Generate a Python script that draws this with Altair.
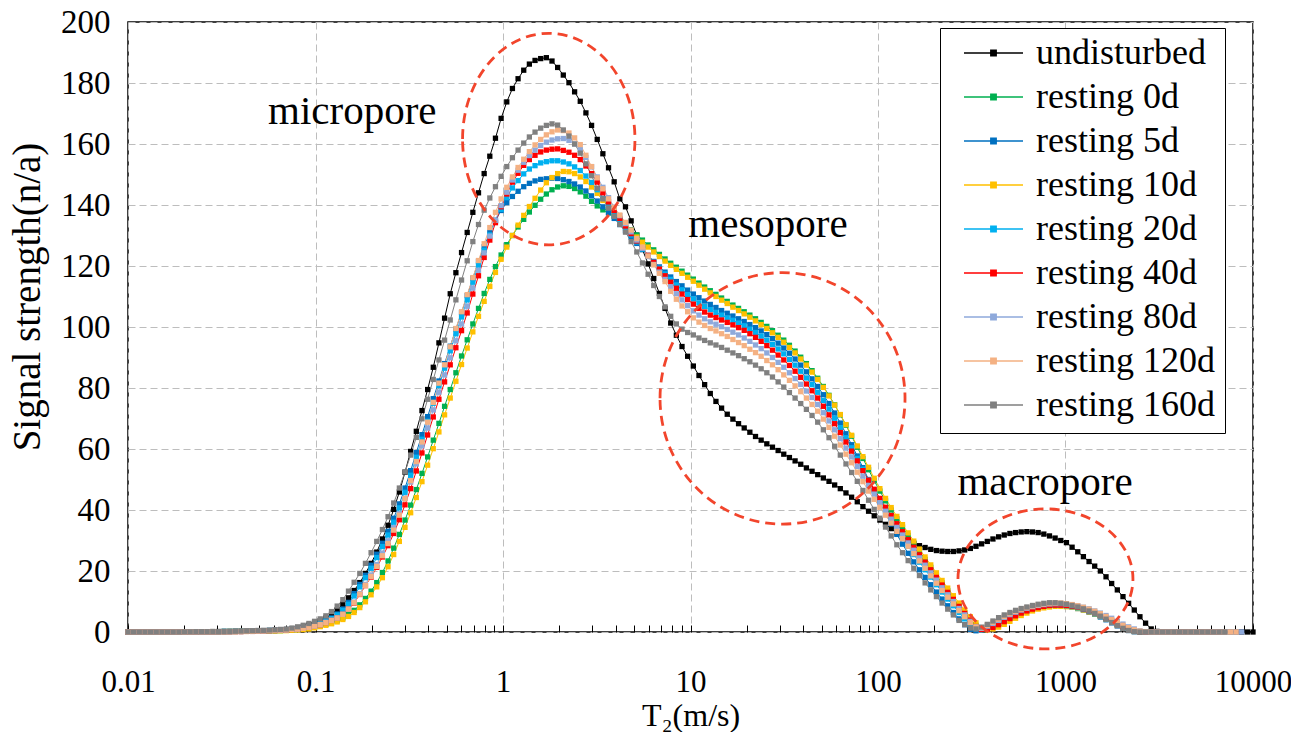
import altair as alt
import numpy as np
import pandas as pd

SERIF = "Liberation Serif"

series_names = ["undisturbed", "resting 0d", "resting 5d", "resting 10d", "resting 20d",
                "resting 40d", "resting 80d", "resting 120d", "resting 160d"]
series_colors = ["#000000", "#00B050", "#0070C0", "#FFC000", "#00B0F0",
                 "#FF0000", "#8EA9DB", "#F4B183", "#808080"]
# index of the last plotted point of every series on the T2 grid
last_index = [199, 193, 193, 193, 193, 193, 197, 196, 194]

# signal, starting at grid point 10 (points 0-9 are 0)
undisturbed = [
    0.1, 0.1, 0.1, 0.1, 0.1, 0.15, 0.15, 0.2, 0.2, 0.2,
    0.2, 0.25, 0.3, 0.3, 0.35, 0.4, 0.5, 0.6, 0.7, 1.0,
    1.35, 1.8, 2.3, 2.9, 3.7, 4.6, 5.8, 7.3, 9.1, 11.2,
    13.6, 16.2, 19.2, 22.5, 26.2, 30.5, 35.0, 40.2, 45.9, 52.4,
    59.2, 65.8, 72.6, 79.5, 86.8, 94.8, 102.9, 110.9, 117.8, 124.4,
    131.0, 137.6, 144.0, 150.3, 156.0, 161.9, 168.4, 173.8, 178.2, 181.4,
    184.2, 186.2, 187.4, 188.0, 188.3, 187.2, 185.1, 182.6, 180.1, 177.1,
    174.0, 170.2, 166.1, 161.5, 156.8, 152.2, 147.6, 142.0, 139.4, 134.8,
    130.1, 125.4, 120.7, 115.9, 111.0, 106.1, 101.3, 97.3, 93.6, 90.4,
    87.2, 84.1, 81.1, 78.2, 75.6, 73.4, 71.4, 69.8, 68.3, 66.9,
    65.5, 64.1, 62.9, 61.7, 60.6, 59.5, 58.3, 57.2, 56.1, 55.0,
    53.8, 52.7, 51.6, 50.5, 49.4, 48.2, 47.0, 45.6, 44.2, 42.7,
    41.1, 39.6, 38.1, 36.7, 35.3, 33.9, 32.5, 31.3, 30.2, 29.1,
    28.3, 27.7, 27.1, 26.7, 26.5, 26.4, 26.4, 26.6, 26.9, 27.4,
    28.1, 28.9, 29.7, 30.5, 31.2, 31.8, 32.3, 32.6, 32.8, 32.9,
    32.8, 32.6, 32.1, 31.5, 30.8, 30.0, 29.3, 27.8, 26.3, 24.7,
    23.1, 21.6, 20.0, 18.1, 15.9, 13.8, 11.6, 9.4, 7.2, 5.0,
    2.9, 1.0, 0.2]

resting_0d = [
    0.0, 0.05, 0.05, 0.05, 0.1, 0.1, 0.1, 0.15, 0.15, 0.2,
    0.2, 0.25, 0.3, 0.3, 0.35, 0.4, 0.4, 0.45, 0.55, 0.65,
    0.8, 0.95, 1.2, 1.6, 2.0, 2.5, 3.0, 3.7, 4.6, 5.7,
    7.1, 8.9, 11.0, 13.4, 16.2, 19.5, 23.3, 27.5, 32.0, 36.7,
    41.6, 46.7, 52.0, 57.4, 62.9, 68.4, 74.0, 79.5, 85.0, 90.5,
    95.8, 101.0, 106.1, 111.0, 115.6, 119.8, 123.6, 127.0, 130.0, 132.8,
    135.3, 137.7, 139.9, 141.9, 143.6, 145.0, 145.9, 146.3, 146.1, 145.4,
    144.3, 142.9, 141.2, 139.7, 138.4, 137.4, 136.4, 135.2, 133.6, 131.9,
    130.2, 128.5, 126.9, 125.3, 123.8, 122.3, 120.9, 119.6, 118.3, 117.0,
    115.7, 114.4, 113.1, 111.9, 110.7, 109.5, 108.4, 107.2, 106.1, 105.0,
    103.9, 102.7, 101.5, 100.2, 98.8, 97.3, 95.7, 94.0, 92.1, 90.1,
    88.0, 85.7, 83.2, 80.5, 77.6, 74.5, 71.2, 67.8, 64.2, 60.6,
    56.9, 53.2, 49.6, 46.2, 43.0, 40.0, 37.1, 34.4, 31.7, 29.0,
    26.4, 23.8, 21.2, 18.6, 16.1, 13.6, 11.1, 8.7, 6.4, 4.2,
    2.2, 0.8, 1.0, 1.7, 2.6, 3.6, 4.6, 5.5, 6.3, 7.0,
    7.6, 8.1, 8.5, 8.7, 8.8, 8.8, 8.7, 8.4, 8.0, 7.5,
    6.9, 6.2, 5.4, 4.5, 3.5, 2.5, 1.6, 0.8, 0.3, 0.1]

resting_5d = [
    0.0, 0.05, 0.05, 0.05, 0.1, 0.1, 0.1, 0.15, 0.15, 0.2,
    0.25, 0.25, 0.3, 0.35, 0.4, 0.5, 0.55, 0.65, 0.8, 0.9,
    1.05, 1.4, 1.8, 2.3, 2.9, 3.7, 4.6, 5.9, 7.5, 9.7,
    12.6, 15.6, 18.6, 21.9, 25.5, 29.1, 33.0, 37.3, 42.0, 47.2,
    52.9, 58.8, 64.7, 70.6, 76.5, 82.3, 88.0, 93.7, 99.3, 104.8,
    110.3, 116.0, 121.5, 126.3, 131.0, 135.0, 138.2, 140.8, 142.8, 144.5,
    146.0, 147.1, 147.9, 148.4, 148.6, 148.8, 148.7, 148.3, 147.7, 146.9,
    145.9, 144.6, 143.0, 141.3, 139.4, 137.5, 135.6, 133.6, 131.6, 129.5,
    127.4, 125.4, 123.4, 121.5, 119.7, 118.0, 116.4, 114.9, 113.5, 112.1,
    110.8, 109.6, 108.5, 107.4, 106.4, 105.4, 104.5, 103.6, 102.7, 101.8,
    100.8, 99.8, 98.7, 97.5, 96.2, 94.7, 93.1, 91.4, 89.5, 87.5,
    85.3, 83.0, 80.5, 77.8, 74.9, 71.8, 68.5, 65.0, 61.4, 57.7,
    53.9, 50.0, 46.2, 42.5, 38.9, 35.4, 32.0, 28.8, 25.8, 23.0,
    20.4, 17.9, 15.5, 13.1, 10.8, 8.6, 6.4, 4.3, 2.4, 0.9,
    0.4, 0.8, 1.5, 2.4, 3.4, 4.4, 5.3, 6.1, 6.8, 7.4,
    7.9, 8.3, 8.6, 8.8, 8.8, 8.7, 8.5, 8.2, 7.7, 7.2,
    6.5, 5.8, 4.9, 4.0, 3.0, 2.0, 1.2, 0.5, 0.1]

resting_10d = [
    0.0, 0.05, 0.05, 0.05, 0.1, 0.1, 0.1, 0.1, 0.15, 0.15,
    0.2, 0.2, 0.25, 0.25, 0.3, 0.35, 0.35, 0.4, 0.45, 0.55,
    0.65, 0.8, 1.0, 1.35, 1.75, 2.2, 2.7, 3.3, 4.1, 5.1,
    6.4, 8.0, 9.9, 12.2, 14.8, 17.8, 21.4, 25.4, 29.7, 34.3,
    39.1, 44.1, 49.3, 54.7, 60.1, 65.6, 71.2, 76.7, 82.2, 87.7,
    93.1, 98.4, 103.5, 108.4, 113.3, 117.9, 122.2, 126.2, 130.0, 133.4,
    136.6, 139.5, 142.2, 144.9, 147.3, 149.0, 150.3, 151.0, 150.9, 150.3,
    149.2, 147.7, 145.9, 143.8, 141.5, 139.2, 137.0, 134.6, 132.9, 131.2,
    129.5, 127.8, 126.2, 124.6, 123.1, 121.6, 120.2, 118.9, 117.6, 116.3,
    115.0, 113.7, 112.4, 111.2, 110.0, 108.8, 107.7, 106.5, 105.4, 104.3,
    103.2, 102.0, 100.8, 99.5, 98.1, 96.6, 95.0, 93.3, 91.5, 89.5,
    87.5, 85.2, 82.8, 80.2, 77.4, 74.4, 71.3, 68.0, 64.5, 61.0,
    57.5, 54.0, 50.4, 47.0, 43.8, 40.8, 37.9, 35.2, 32.5, 29.8,
    27.2, 24.6, 22.0, 19.4, 16.9, 14.4, 11.9, 9.5, 7.2, 5.0,
    3.0, 1.4, 0.7, 1.0, 1.6, 2.5, 3.5, 4.5, 5.4, 6.2,
    6.9, 7.5, 7.9, 8.2, 8.4, 8.4, 8.3, 8.1, 7.7, 7.2,
    6.6, 5.9, 5.1, 4.2, 3.3, 2.3, 1.4, 0.7, 0.2, 0.05]

resting_20d = [
    0.0, 0.05, 0.05, 0.05, 0.1, 0.1, 0.1, 0.15, 0.15, 0.2,
    0.2, 0.25, 0.3, 0.35, 0.4, 0.5, 0.55, 0.65, 0.75, 0.9,
    1.0, 1.35, 1.75, 2.2, 2.8, 3.55, 4.4, 5.6, 7.1, 9.1,
    11.8, 14.8, 17.8, 20.9, 24.4, 28.0, 31.8, 36.0, 40.7, 45.8,
    51.4, 57.3, 63.2, 69.1, 75.0, 80.8, 86.5, 92.2, 97.8, 103.3,
    108.9, 114.7, 120.3, 125.2, 130.2, 134.6, 138.6, 142.4, 145.6, 148.0,
    150.2, 151.8, 152.9, 153.8, 154.2, 154.5, 154.5, 154.1, 153.5, 152.5,
    151.3, 149.5, 147.4, 145.0, 142.2, 139.6, 137.2, 134.8, 132.5, 130.2,
    127.9, 125.6, 123.5, 121.3, 119.3, 117.4, 115.6, 113.8, 112.2, 110.6,
    109.2, 107.9, 106.7, 105.7, 104.8, 103.9, 103.0, 102.2, 101.3, 100.4,
    99.3, 98.2, 97.0, 95.7, 94.3, 92.8, 91.2, 89.4, 87.5, 85.5,
    83.3, 81.1, 78.6, 75.9, 73.1, 70.1, 67.0, 63.7, 60.4, 56.9,
    53.4, 49.9, 46.5, 43.2, 39.9, 36.8, 33.8, 30.9, 28.1, 25.4,
    22.9, 20.4, 18.0, 15.5, 13.1, 10.8, 8.6, 6.4, 4.3, 2.4,
    1.1, 0.7, 1.2, 2.0, 2.9, 3.9, 4.8, 5.7, 6.5, 7.1,
    7.7, 8.1, 8.5, 8.7, 8.8, 8.8, 8.6, 8.3, 7.9, 7.4,
    6.8, 6.0, 5.2, 4.3, 3.3, 2.3, 1.4, 0.7, 0.2, 0.05]

resting_40d = [
    0.0, 0.0, 0.05, 0.05, 0.05, 0.05, 0.1, 0.1, 0.1, 0.15,
    0.15, 0.2, 0.2, 0.3, 0.35, 0.45, 0.5, 0.6, 0.7, 0.85,
    0.95, 1.2, 1.55, 1.95, 2.4, 3.1, 3.8, 4.6, 5.8, 7.5,
    9.5, 12.3, 15.2, 18.0, 21.2, 24.6, 28.3, 32.3, 36.8, 41.7,
    47.0, 52.8, 58.7, 64.6, 70.5, 76.3, 82.0, 87.6, 93.2, 98.8,
    104.6, 110.8, 116.8, 122.8, 128.5, 134.2, 139.4, 143.6, 147.5, 150.4,
    153.0, 154.9, 156.3, 157.4, 158.0, 158.3, 158.4, 157.9, 157.3, 156.3,
    154.9, 152.8, 150.3, 147.5, 144.0, 141.0, 138.2, 135.6, 133.1, 130.6,
    128.2, 125.8, 123.5, 121.2, 119.0, 116.8, 114.7, 112.7, 110.8, 109.0,
    107.5, 106.1, 104.9, 103.9, 103.1, 102.3, 101.5, 100.7, 99.8, 98.9,
    97.8, 96.6, 95.3, 93.9, 92.4, 90.8, 89.2, 87.4, 85.5, 83.5,
    81.3, 79.1, 76.7, 74.0, 71.2, 68.3, 65.4, 62.3, 59.3, 56.1,
    52.9, 49.8, 46.8, 43.8, 40.9, 38.2, 35.5, 32.9, 30.3, 27.8,
    25.3, 22.9, 20.4, 17.9, 15.4, 13.0, 10.7, 8.4, 6.1, 3.9,
    1.8, 0.8, 0.9, 1.5, 2.4, 3.4, 4.4, 5.3, 6.2, 6.9,
    7.5, 8.0, 8.4, 8.7, 8.8, 8.8, 8.7, 8.5, 8.1, 7.6,
    7.0, 6.3, 5.5, 4.6, 3.6, 2.6, 1.7, 0.9, 0.4, 0.1]

resting_80d = [
    0.0, 0.0, 0.05, 0.05, 0.05, 0.05, 0.1, 0.1, 0.1, 0.15,
    0.15, 0.2, 0.2, 0.3, 0.35, 0.45, 0.5, 0.6, 0.7, 0.85,
    0.95, 1.2, 1.55, 1.95, 2.4, 3.1, 3.8, 4.6, 5.8, 7.5,
    9.8, 12.6, 15.6, 18.7, 22.1, 25.9, 29.9, 34.2, 38.8, 43.8,
    49.2, 55.1, 61.0, 66.9, 72.8, 78.6, 84.3, 89.9, 95.5, 101.0,
    106.8, 112.8, 118.6, 124.3, 129.8, 135.0, 139.8, 144.2, 148.2, 151.4,
    154.0, 156.2, 158.0, 159.5, 160.6, 161.3, 161.7, 161.8, 161.2, 160.0,
    158.2, 155.6, 152.5, 149.2, 145.8, 142.4, 139.3, 136.5, 133.9, 131.2,
    128.5, 125.8, 123.1, 120.5, 118.0, 115.6, 113.2, 110.9, 108.9, 107.0,
    105.3, 103.9, 102.7, 101.7, 100.9, 100.1, 99.2, 98.3, 97.4, 96.4,
    95.3, 94.1, 92.9, 91.5, 90.0, 88.4, 86.8, 85.0, 83.1, 81.2,
    79.0, 76.9, 74.6, 71.9, 69.2, 66.3, 63.4, 60.3, 57.4, 54.3,
    51.1, 48.0, 45.2, 42.4, 39.6, 37.0, 34.3, 31.8, 29.2, 26.8,
    24.3, 21.9, 19.4, 17.0, 14.5, 12.2, 10.0, 7.7, 5.6, 3.5,
    1.7, 1.2, 1.9, 2.8, 3.8, 4.8, 5.7, 6.5, 7.2, 7.8,
    8.3, 8.7, 9.0, 9.2, 9.3, 9.3, 9.2, 8.9, 8.6, 8.1,
    7.6, 6.9, 6.2, 5.4, 4.5, 3.5, 2.6, 1.7, 1.0, 0.4,
    0.1]

resting_120d = [
    0.0, 0.0, 0.05, 0.05, 0.05, 0.05, 0.1, 0.1, 0.1, 0.15,
    0.15, 0.2, 0.2, 0.3, 0.35, 0.45, 0.5, 0.6, 0.7, 0.85,
    0.95, 1.2, 1.55, 1.95, 2.4, 3.1, 3.8, 4.6, 5.8, 7.5,
    9.6, 12.4, 15.3, 18.2, 21.5, 25.0, 29.0, 33.4, 38.3, 43.7,
    49.6, 55.9, 62.3, 68.8, 75.3, 81.6, 87.6, 93.5, 99.5, 105.0,
    110.6, 116.2, 121.8, 127.3, 132.6, 137.6, 142.0, 145.8, 149.2, 152.3,
    155.0, 157.5, 159.7, 161.5, 163.0, 164.0, 164.6, 164.4, 163.6, 162.0,
    159.8, 156.3, 152.6, 148.9, 145.3, 142.0, 139.2, 136.7, 134.3, 131.8,
    129.0, 126.2, 123.3, 120.4, 117.6, 114.9, 111.7, 109.1, 106.9, 105.0,
    103.0, 101.6, 100.5, 99.5, 98.7, 97.8, 96.9, 95.9, 94.9, 93.9,
    92.7, 91.6, 90.4, 89.0, 87.6, 86.0, 84.3, 82.5, 80.7, 78.8,
    76.7, 74.6, 72.4, 69.8, 67.1, 64.2, 61.3, 58.3, 55.5, 52.4,
    49.3, 46.2, 43.5, 40.9, 38.3, 35.7, 33.0, 30.6, 28.1, 25.7,
    23.3, 20.9, 18.4, 16.0, 13.6, 11.4, 9.2, 7.0, 5.0, 3.1,
    1.6, 1.4, 2.2, 3.2, 4.2, 5.1, 6.0, 6.8, 7.4, 8.0,
    8.5, 8.9, 9.2, 9.4, 9.5, 9.5, 9.3, 9.0, 8.6, 8.1,
    7.5, 6.8, 6.0, 5.1, 4.1, 3.1, 2.2, 1.4, 0.7, 0.3,
    0.1]

resting_160d = [
    0.05, 0.05, 0.1, 0.1, 0.1, 0.1, 0.15, 0.15, 0.2, 0.25,
    0.3, 0.35, 0.4, 0.5, 0.55, 0.65, 0.75, 0.85, 1.0, 1.3,
    1.7, 2.2, 2.8, 3.5, 4.3, 5.3, 6.7, 8.5, 10.6, 13.4,
    16.3, 19.2, 22.5, 26.0, 29.7, 33.6, 37.8, 42.3, 47.2, 52.5,
    58.0, 63.8, 69.9, 76.3, 82.8, 89.2, 95.7, 102.3, 108.9, 115.4,
    121.7, 128.0, 133.6, 138.3, 142.3, 146.0, 149.4, 152.6, 155.5, 158.0,
    160.3, 162.3, 163.9, 165.2, 166.1, 166.6, 166.2, 164.6, 162.6, 160.0,
    157.0, 153.5, 149.6, 145.5, 142.0, 139.0, 136.3, 133.6, 131.1, 128.0,
    124.6, 121.0, 117.3, 113.6, 110.0, 106.6, 103.5, 101.0, 99.3, 98.2,
    97.4, 96.4, 95.6, 94.8, 94.1, 93.3, 92.4, 91.5, 90.6, 89.6,
    88.6, 87.5, 86.3, 85.0, 83.6, 82.0, 80.3, 78.5, 76.7, 74.9,
    73.0, 71.0, 68.8, 66.3, 63.7, 60.9, 58.0, 55.1, 52.3, 49.4,
    46.4, 43.2, 40.2, 37.3, 34.4, 31.5, 28.6, 26.0, 23.4, 20.9,
    18.5, 16.1, 13.8, 11.6, 9.5, 7.5, 5.6, 3.8, 2.4, 1.3,
    1.0, 1.6, 2.5, 3.6, 4.7, 5.6, 6.4, 7.1, 7.7, 8.2,
    8.7, 9.1, 9.4, 9.6, 9.6, 9.4, 9.1, 8.7, 8.2, 7.6,
    6.9, 6.1, 5.2, 4.2, 3.1, 2.1, 1.2, 0.5, 0.1]

series_values = [undisturbed, resting_0d, resting_5d, resting_10d, resting_20d,
                 resting_40d, resting_80d, resting_120d, resting_160d]

# T2 grid of the instrument: 200 log-spaced relaxation times, 0.01 .. 10000
t2_grid = np.logspace(-2, 4, 200)

rows = []
for name, vals, last in zip(series_names, series_values, last_index):
    full = [0.0] * 10 + vals
    assert len(full) <= last + 1, name
    full = full + [0.0] * (last + 1 - len(full))
    for t, v in zip(t2_grid, full):
        rows.append({"T2": float(t), "signal": v, "series": name})
df = pd.DataFrame(rows)

# annotations
ann_labels = ["micropore", "mesopore", "macropore"]
ann_t2 = [0.157, 25.9, 778.0]
ann_signal = [170.5, 133.4, 48.9]

ell_t2 = [1.754, 30.96, 781.8]
ell_signal = [161.6, 76.6, 17.4]
ell_rx = [86.2, 122.5, 87.5]     # pixels
ell_ry = [105.8, 125.7, 70.0]

x_values = [0.01, 0.1, 1, 10, 100, 1000, 10000]
x_minor = [m * 10.0 ** e for e in range(-2, 4) for m in range(1, 10)] + [10000.0]
y_values = list(range(0, 201, 20))
y_title = "Signal strength(n/a)"

W, H = 1125, 610
xscale = alt.Scale(type="log", domain=[0.01, 10000], nice=False)
yscale = alt.Scale(domain=[0, 200], nice=False)
color_scale = alt.Scale(domain=series_names, range=series_colors)

LEGEND_SYMBOL = "M-1,0H1M-0.09,-0.09H0.09V0.09H-0.09Z"
legend = alt.Legend(
    title=None, orient="none", legendX=812, legendY=6,
    symbolType=LEGEND_SYMBOL, symbolSize=3481, symbolStrokeWidth=1.5,
    labelFont=SERIF, labelFontSize=36, labelColor="black", labelLimit=400,
    labelOffset=12, symbolOffset=13, padding=10, rowPadding=8, clipHeight=30,
    strokeColor="black", fillColor="white",
)

# no serif italic face is available here, so the titles stay upright serif
x_axis = alt.Axis(
    orient="bottom", values=x_values, format="~g", labelFlush=False,
    labelFont=SERIF, labelFontSize=31, labelColor="black", labelPadding=35,
    ticks=False, domain=False, grid=True, gridColor="#BDBDBD", gridDash=[7, 4],
    title="T₂(m/s)", titleFont=SERIF, titleFontSize=32, titleFontStyle="normal",
    titleFontWeight="normal", titleColor="black", titleBaseline="alphabetic", titleY=93,
)
y_axis = alt.Axis(
    orient="left", values=y_values, labelFont=SERIF, labelFontSize=33, labelColor="black",
    labelPadding=18, ticks=False, domain=False, grid=True, gridColor="#BDBDBD",
    gridDash=[7, 4], title=None,
)

base = alt.Chart(df)

lines = base.mark_line(strokeWidth=1).encode(
    x=alt.X("T2:Q", scale=xscale, axis=x_axis),
    y=alt.Y("signal:Q", scale=yscale, axis=y_axis),
    stroke=alt.Stroke("series:N", scale=color_scale, legend=legend, sort=series_names),
)

markers = base.mark_square(size=28, opacity=1, strokeWidth=0).encode(
    x=alt.X("T2:Q", scale=xscale, axis=None),
    y=alt.Y("signal:Q", scale=yscale, axis=None),
    fill=alt.Fill("series:N", scale=color_scale, legend=legend, sort=series_names),
)


def ellipse_path(a, b):
    k = 0.5523
    f = lambda v: f"{v:.4f}"
    return (f"M{f(-a)},0C{f(-a)},{f(-k*b)} {f(-k*a)},{f(-b)} 0,{f(-b)}"
            f"C{f(k*a)},{f(-b)} {f(a)},{f(-k*b)} {f(a)},0"
            f"C{f(a)},{f(k*b)} {f(k*a)},{f(b)} 0,{f(b)}"
            f"C{f(-k*a)},{f(b)} {f(-a)},{f(k*b)} {f(-a)},0Z")


ellipses = []
for t, s, rx, ry in zip(ell_t2, ell_signal, ell_rx, ell_ry):
    half = max(rx, ry)
    ellipses.append(
        alt.Chart(pd.DataFrame({"T2": [t], "signal": [s]}))
        .mark_point(shape=ellipse_path(rx / half, ry / half), size=(2 * half) ** 2,
                    filled=False, color="#F2452C", strokeWidth=2.8,
                    strokeDash=[10, 6], opacity=1)
        .encode(x=alt.X("T2:Q", scale=xscale, axis=None),
                y=alt.Y("signal:Q", scale=yscale, axis=None))
    )

labels = alt.Chart(pd.DataFrame({"T2": ann_t2, "signal": ann_signal, "label": ann_labels})).mark_text(
    font=SERIF, fontSize=41, color="black", align="center", baseline="middle"
).encode(
    x=alt.X("T2:Q", scale=xscale, axis=None),
    y=alt.Y("signal:Q", scale=yscale, axis=None),
    text="label:N",
)

# y-axis title, written as rotated serif text left of the labels
y_title_text = alt.Chart(pd.DataFrame({"t": [y_title]})).mark_text(
    angle=270, font=SERIF, fontSize=39, color="black",
    align="center", baseline="middle",
).encode(text="t:N", x=alt.value(-100), y=alt.value(275))

# inward minor ticks along the bottom edge
minor_ticks = alt.Chart(pd.DataFrame({"T2": x_minor})).mark_point(opacity=0).encode(
    x=alt.X("T2:Q", scale=xscale, axis=alt.Axis(
        orient="top", offset=-H, values=x_minor, tickSize=7, tickColor="black",
        tickWidth=1, labels=False, domain=False, grid=False, title=None)),
    y=alt.value(0),
)

chart = alt.layer(lines, markers, *ellipses, labels, y_title_text, minor_ticks).resolve_axis(
    x="independent", y="independent"
).properties(
    width=W, height=H,
    autosize=alt.AutoSizeParams(type="none"),
    padding={"left": 120, "top": 14, "right": 38, "bottom": 100},
).configure(
    font=SERIF
).configure_axis(
    titleFont=SERIF, labelFont=SERIF
).configure_view(stroke="black", strokeWidth=1.5)

chart.save("out.html", embed_options={"renderer": "svg", "actions": False})
